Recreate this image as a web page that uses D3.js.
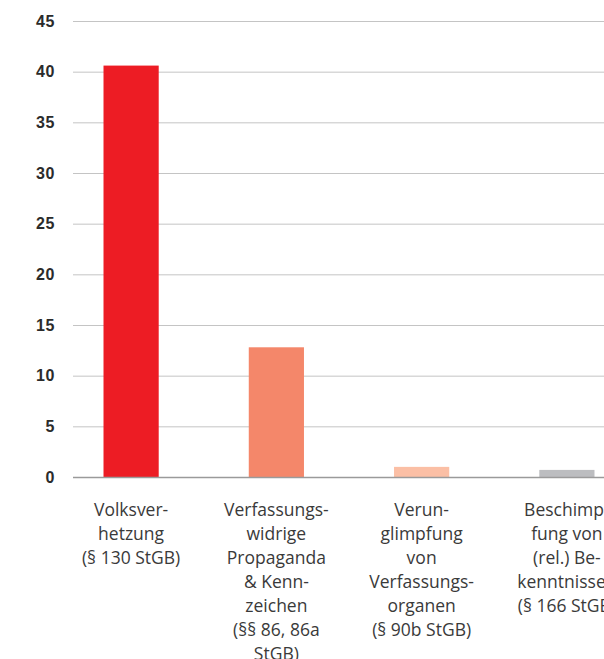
<!DOCTYPE html>
<html>
<head>
<meta charset="utf-8">
<script src="https://cdn.jsdelivr.net/npm/d3@7"></script>
<style>
  html, body { margin: 0; padding: 0; background: #fff; overflow: hidden; }
  svg { display: block; font-family: "Open Sans", sans-serif; }
  .grid line { stroke: #c4c4c4; stroke-width: 1; }
  .grid path { display: none; }
  .y_axis text { font-weight: 700; font-size: 16px; letter-spacing: 0.6px; fill: #2b2b2b; }
  .cat_label { font-size: 17.5px; fill: #3a3a3a; }
</style>
</head>
<body>
<div id="chart"></div>
<script>
const categories = ['Volksverhetzung', 'Propaganda', 'Verunglimpfung', 'Beschimpfung'];
const values = [40.6, 12.8, 1.0, 0.7];
const colors = ['#ed1c24', '#f4876a', '#fbbfa5', '#bcbdc0'];
const yTicks = [0, 5, 10, 15, 20, 25, 30, 35, 40, 45];
const labelLines = [
  ['Volksver-', 'hetzung', '(§ 130 StGB)'],
  ['Verfassungs-', 'widrige', 'Propaganda', '& Kenn-', 'zeichen', '(§§ 86, 86a', 'StGB)'],
  ['Verun-', 'glimpfung', 'von', 'Verfassungs-', 'organen', '(§ 90b StGB)'],
  ['Beschimp-', 'fung von', '(rel.) Be-', 'kenntnissen', '(§ 166 StGB)']
];

const width = 604;
const height = 659;
const margin = { top: 21, left: 73, bottom: 182 };

const svg = d3.select('#chart')
  .append('svg')
  .attr('width', width)
  .attr('height', height);

// 比例尺
const x = d3.scaleBand()
  .domain(categories)
  .range([margin.left, 625])
  .paddingInner(0.62)
  .paddingOuter(0.21);

const y = d3.scaleLinear()
  .domain([0, 45])
  .range([height - margin.bottom, margin.top]);

// 辅助线
svg.append('g')
  .attr('class', 'grid')
  .attr('transform', `translate(${margin.left}, 0)`)
  .call(d3.axisRight(y).tickValues(yTicks.filter(d => d > 0)).tickSize(700).tickFormat(''));

// 左数轴文字
const yAxis = svg.append('g')
  .attr('class', 'y_axis')
  .attr('transform', `translate(${margin.left}, 0)`)
  .call(d3.axisLeft(y).tickValues(yTicks).tickSize(0).tickPadding(18));
yAxis.select('.domain').remove();

// 柱子
svg.append('g')
  .selectAll('rect')
  .data(values)
  .join('rect')
  .attr('x', (d, i) => x(categories[i]))
  .attr('y', d => y(d))
  .attr('width', x.bandwidth())
  .attr('height', d => y(0) - y(d))
  .attr('fill', (d, i) => colors[i]);

// 基线
svg.append('line')
  .attr('x1', margin.left)
  .attr('x2', 700)
  .attr('y1', y(0) + 0.5)
  .attr('y2', y(0) + 0.5)
  .attr('stroke', '#9a9a9a')
  .attr('stroke-width', 1.5);

// 类别文字
const labels = svg.append('g')
  .selectAll('text')
  .data(labelLines)
  .join('text')
  .attr('class', 'cat_label')
  .attr('text-anchor', 'middle')
  .attr('x', (d, i) => x(categories[i]) + x.bandwidth() / 2)
  .attr('y', 516);

labels.selectAll('tspan')
  .data((d, i) => d.map(t => ({ t, cx: x(categories[i]) + x.bandwidth() / 2 })))
  .join('tspan')
  .attr('x', d => d.cx)
  .attr('dy', (d, i) => i === 0 ? 0 : 24)
  .text(d => d.t);
</script>
</body>
</html>
